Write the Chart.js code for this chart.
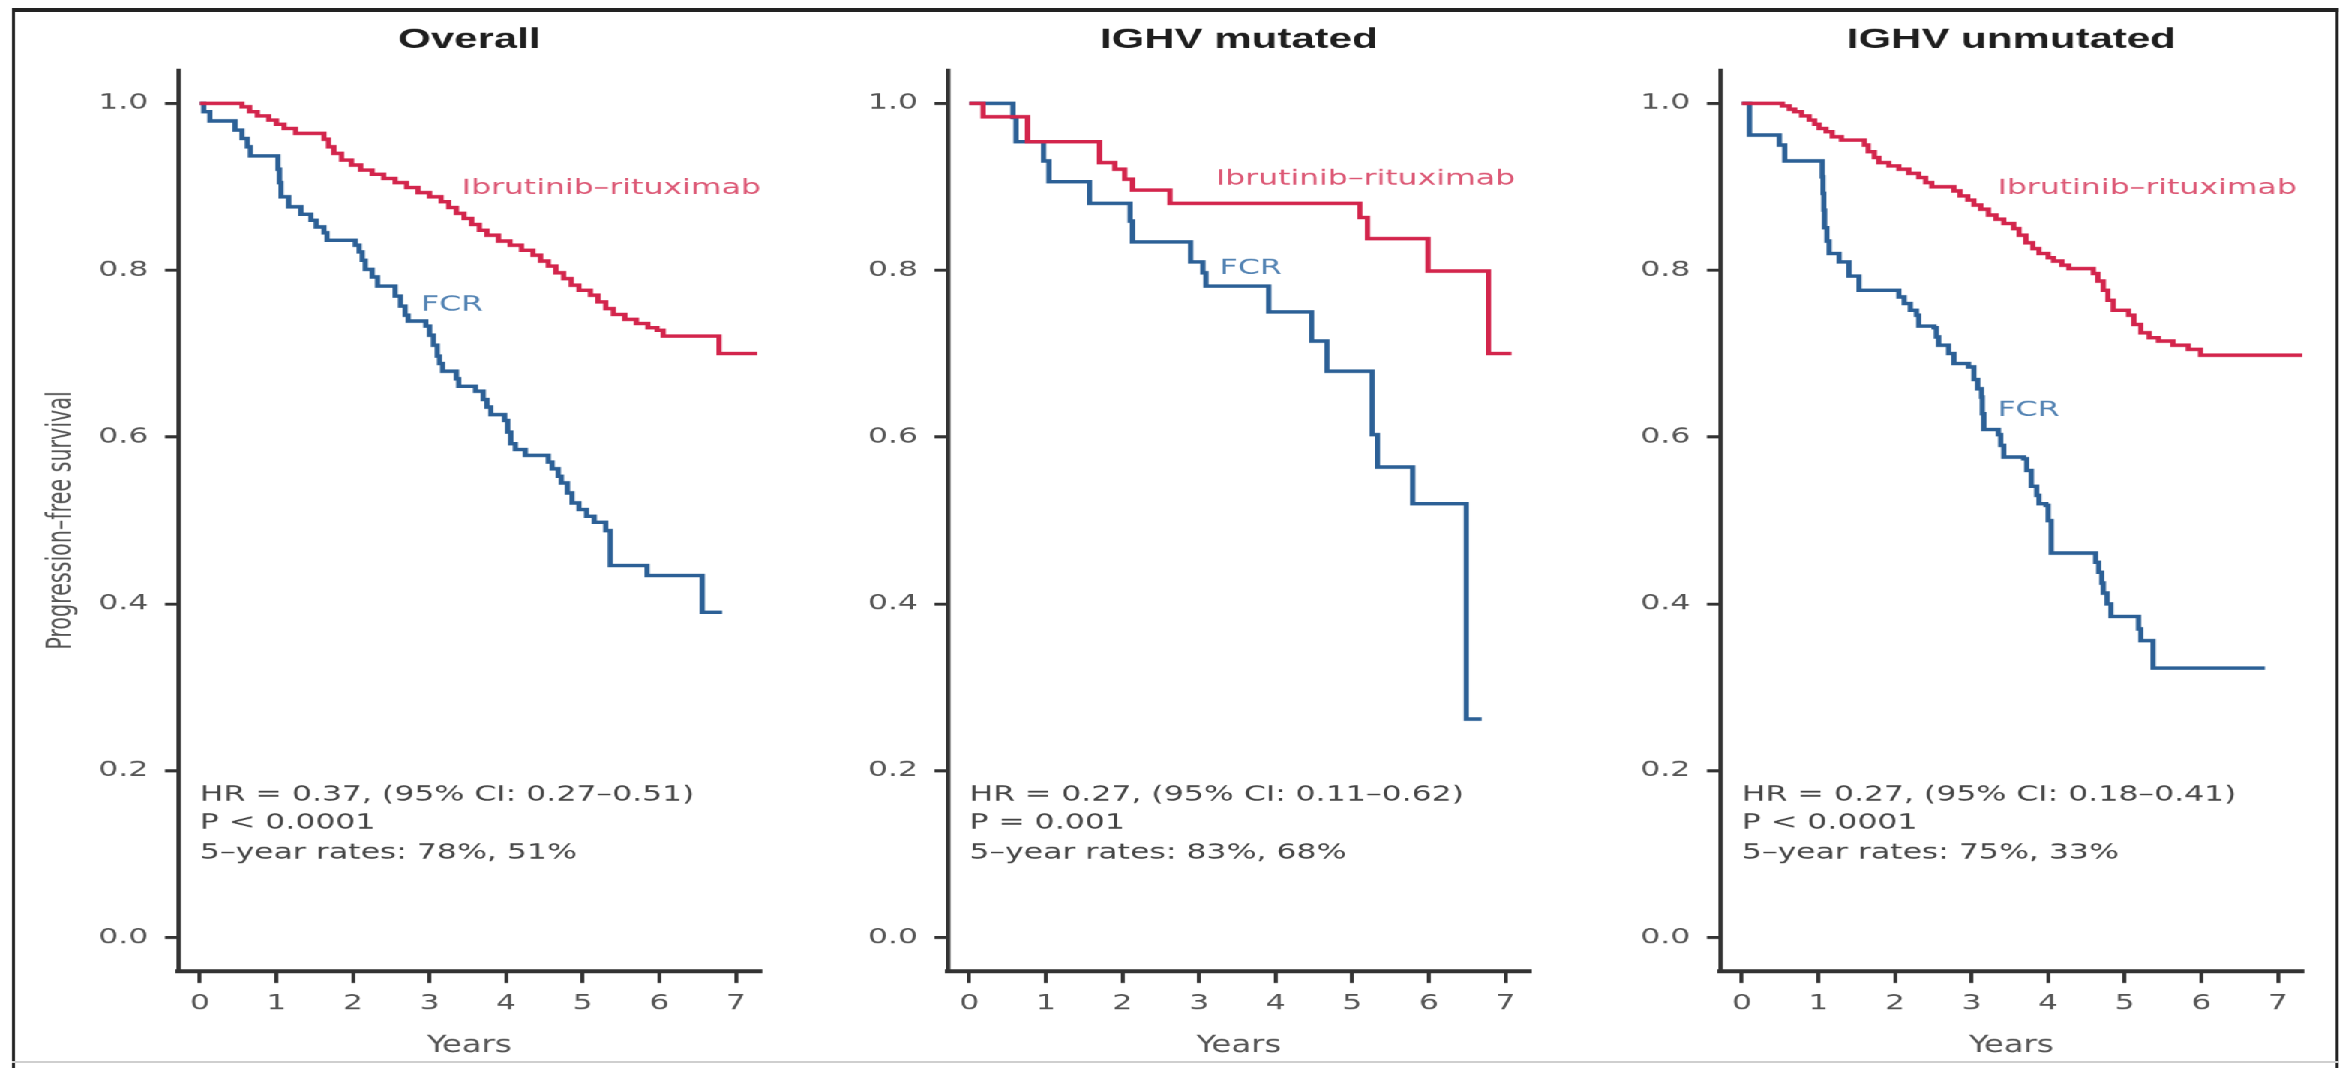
<!DOCTYPE html>
<html>
<head>
<meta charset="utf-8">
<script src="https://cdn.jsdelivr.net/npm/chart.js@4.4.1/dist/chart.umd.min.js"></script>
<style>
  html, body { margin: 0; padding: 0; background: #fff; overflow: hidden; }
  /* the source figure is stretched sideways, so the whole stage is too */
  #stage { position: absolute; left: 0; top: 0; width: 1562.67px; height: 1068px; transform: scaleX(1.5); transform-origin: 0 0; }
  #frame { position: absolute; left: 8px; top: 8px; width: 1550.67px; height: 1070px; box-sizing: border-box;
           border-left: 2.7px solid #222; border-right: 2.7px solid #222; border-top: 4px solid #222; }
  #foot { position: absolute; left: 8px; top: 1061px; width: 1550.67px; border-top: 2px solid #cfcfcf; }
  canvas { position: absolute; top: 0; width: 500px; height: 1068px; }
</style>
</head>
<body>
<div id="stage">
  <div id="frame"></div>
  <div id="foot"></div>
  <canvas id="overall" width="500" height="1068" style="left:18.67px"></canvas>
  <canvas id="mutated" width="500" height="1068" style="left:532px"></canvas>
  <canvas id="unmutated" width="500" height="1068" style="left:1046.67px"></canvas>
</div>
<script>
const years = [0, 1, 2, 3, 4, 5, 6, 7];
const survivalTicks = [0, 0.2, 0.4, 0.6, 0.8, 1.0];
const seriesNames = ['Ibrutinib–rituximab', 'FCR'];

// Kaplan-Meier steps: [years, survival after the drop]
const overallIR = [[0,1],[0.55,0.996],[0.65,0.990],[0.75,0.985],[0.9,0.980],[1.0,0.975],[1.1,0.970],[1.25,0.964],
  [1.62,0.957],[1.68,0.948],[1.75,0.940],[1.85,0.932],[1.98,0.926],[2.1,0.920],[2.25,0.915],[2.4,0.910],[2.55,0.905],
  [2.7,0.899],[2.85,0.893],[3.0,0.888],[3.15,0.882],[3.25,0.875],[3.35,0.868],[3.45,0.862],[3.55,0.855],[3.65,0.848],
  [3.75,0.842],[3.9,0.835],[4.05,0.830],[4.2,0.824],[4.35,0.818],[4.45,0.811],[4.55,0.805],[4.65,0.797],[4.75,0.790],
  [4.85,0.782],[4.95,0.776],[5.1,0.770],[5.2,0.762],[5.3,0.754],[5.4,0.747],[5.55,0.741],[5.7,0.736],[5.85,0.731],
  [5.97,0.728],[6.05,0.721],[6.78,0.700],[7.28,0.700]];
const overallFCR = [[0,1],[0.05,0.990],[0.13,0.979],[0.46,0.968],[0.55,0.958],[0.62,0.948],[0.66,0.937],[1.02,0.921],
  [1.04,0.905],[1.06,0.888],[1.16,0.876],[1.32,0.867],[1.45,0.860],[1.52,0.852],[1.62,0.845],[1.66,0.836],[2.03,0.830],
  [2.08,0.822],[2.12,0.812],[2.16,0.801],[2.25,0.792],[2.32,0.781],[2.55,0.769],[2.62,0.757],[2.68,0.746],[2.72,0.739],
  [2.95,0.733],[3.0,0.722],[3.05,0.710],[3.1,0.697],[3.13,0.688],[3.17,0.679],[3.35,0.670],[3.38,0.661],[3.6,0.655],
  [3.7,0.645],[3.75,0.636],[3.8,0.627],[3.98,0.620],[4.02,0.606],[4.06,0.592],[4.12,0.585],[4.25,0.578],[4.55,0.570],
  [4.6,0.562],[4.68,0.553],[4.72,0.545],[4.8,0.533],[4.86,0.521],[4.95,0.513],[5.05,0.505],[5.15,0.498],[5.3,0.488],
  [5.36,0.446],[5.84,0.434],[6.56,0.390],[6.82,0.390]];

const mutatedIR = [[0,1],[0.18,0.984],[0.76,0.954],[1.70,0.929],[1.90,0.921],[2.03,0.909],[2.13,0.896],[2.62,0.880],
  [5.10,0.863],[5.20,0.838],[5.99,0.799],[6.78,0.700],[7.08,0.700]];
const mutatedFCR = [[0,1],[0.57,0.983],[0.61,0.954],[0.97,0.931],[1.04,0.906],[1.57,0.880],[2.10,0.859],[2.13,0.834],
  [2.89,0.810],[3.05,0.797],[3.09,0.781],[3.91,0.750],[4.47,0.715],[4.67,0.679],[5.26,0.603],[5.33,0.564],[5.79,0.520],
  [6.49,0.262],[6.69,0.262]];

const unmutatedIR = [[0,1],[0.53,0.997],[0.62,0.993],[0.69,0.990],[0.78,0.985],[0.88,0.980],[0.95,0.975],[1.01,0.970],
  [1.1,0.966],[1.18,0.960],[1.3,0.956],[1.6,0.950],[1.65,0.942],[1.73,0.935],[1.79,0.929],[1.92,0.925],[2.05,0.921],
  [2.18,0.916],[2.31,0.911],[2.4,0.905],[2.48,0.900],[2.77,0.895],[2.85,0.889],[2.95,0.884],[3.03,0.878],[3.12,0.873],
  [3.22,0.866],[3.32,0.861],[3.42,0.856],[3.55,0.850],[3.62,0.842],[3.71,0.833],[3.8,0.826],[3.88,0.820],[4.0,0.815],
  [4.07,0.811],[4.18,0.806],[4.27,0.802],[4.59,0.796],[4.65,0.787],[4.72,0.776],[4.78,0.764],[4.85,0.752],[5.05,0.746],
  [5.12,0.735],[5.21,0.725],[5.32,0.719],[5.44,0.715],[5.63,0.710],[5.83,0.705],[5.99,0.698],[7.32,0.698]];
const unmutatedFCR = [[0,1],[0.10,0.962],[0.49,0.950],[0.56,0.931],[1.05,0.912],[1.06,0.892],[1.07,0.872],[1.08,0.851],
  [1.11,0.835],[1.14,0.820],[1.27,0.810],[1.40,0.793],[1.53,0.776],[2.05,0.768],[2.12,0.760],[2.2,0.752],[2.28,0.746],
  [2.31,0.733],[2.51,0.731],[2.54,0.720],[2.57,0.710],[2.70,0.700],[2.77,0.688],[2.96,0.684],[3.03,0.669],[3.08,0.658],
  [3.13,0.648],[3.14,0.628],[3.16,0.609],[3.35,0.603],[3.38,0.590],[3.42,0.576],[3.68,0.574],[3.72,0.560],[3.78,0.541],
  [3.85,0.530],[3.88,0.520],[3.97,0.518],[4.00,0.500],[4.04,0.461],[4.62,0.450],[4.66,0.438],[4.70,0.425],[4.72,0.413],
  [4.77,0.400],[4.82,0.385],[5.18,0.370],[5.21,0.356],[5.37,0.323],[6.83,0.323]];

const statsOverall = ['HR = 0.37, (95% CI: 0.27–0.51)', 'P < 0.0001', '5–year rates: 78%, 51%'];
const statsMutated = ['HR = 0.27, (95% CI: 0.11–0.62)', 'P = 0.001', '5–year rates: 83%, 68%'];
const statsUnmutated = ['HR = 0.27, (95% CI: 0.18–0.41)', 'P < 0.0001', '5–year rates: 75%, 33%'];

// colours
const irLine = '#d3254c', fcrLine = '#2c6096';
const irText = '#dc5875', fcrText = '#5383b3';
const axisColor = '#333', tickColor = '#555';

// where the text sits, in data units
const statsRows = [0.171, 0.137, 0.101];

const panelText = {
  id: 'panelText',
  afterDraw(chart, args, opts) {
    const { ctx, chartArea, scales: { x, y } } = chart;
    ctx.save();
    ctx.textBaseline = 'middle';
    ctx.textAlign = 'center';
    ctx.fillStyle = '#1e1e1e';
    ctx.font = 'bold 28px "Liberation Sans", Arial, sans-serif';
    ctx.fillText(opts.title, (chartArea.left + chartArea.right) / 2, 40);

    ctx.textAlign = 'left';
    ctx.font = '21px "DejaVu Sans", sans-serif';
    ctx.fillStyle = irText;
    ctx.fillText(seriesNames[0], x.getPixelForValue(opts.irAt[0]), y.getPixelForValue(opts.irAt[1]));
    ctx.fillStyle = fcrText;
    ctx.fillText(seriesNames[1], x.getPixelForValue(opts.fcrAt[0]), y.getPixelForValue(opts.fcrAt[1]));

    ctx.fillStyle = '#454545';
    opts.stats.forEach((line, i) => {
      ctx.fillText(line, x.getPixelForValue(0), y.getPixelForValue(statsRows[i]));
    });
    ctx.restore();
  }
};

function toPoints(rows) {
  return rows.map(r => ({ x: r[0], y: r[1] }));
}

function kmPanel(id, ir, fcr, text, showYTitle) {
  const line = (name, rows, color) => ({
    label: name, data: toPoints(rows), borderColor: color, backgroundColor: color,
    showLine: true, stepped: 'before', borderWidth: 3.5, pointRadius: 0, fill: false
  });
  return new Chart(document.getElementById(id), {
    type: 'scatter',
    data: { datasets: [line(seriesNames[0], ir, irLine), line(seriesNames[1], fcr, fcrLine)] },
    options: {
      responsive: false,
      animation: false,
      devicePixelRatio: 1.5,
      events: [],
      layout: { padding: { top: 70, right: 12, bottom: 0, left: 0 } },
      plugins: { legend: { display: false }, tooltip: { enabled: false }, panelText: text },
      scales: {
        x: {
          type: 'linear', min: -0.28, max: 7.32,
          afterBuildTicks: s => { s.ticks = years.map(v => ({ value: v })); },
          afterFit: s => { s.height = 97; },
          grid: { drawOnChartArea: false, drawTicks: true, tickLength: 12, color: axisColor, lineWidth: 2.6 },
          border: { display: true, color: axisColor, width: 4 },
          ticks: { color: tickColor, font: { family: '"DejaVu Sans", sans-serif', size: 21 }, padding: 8, maxRotation: 0,
                   callback: v => String(v) },
          title: { display: true, text: 'Years', color: tickColor,
                   font: { family: '"Liberation Sans Narrow", "DejaVu Sans Condensed", sans-serif', size: 24 },
                   padding: { top: 0, bottom: 8 } }
        },
        y: {
          type: 'linear', min: -0.04, max: 1.04,
          afterBuildTicks: s => { s.ticks = survivalTicks.map(v => ({ value: v })); },
          afterFit: s => { s.width = 100; },
          grid: { drawOnChartArea: false, drawTicks: true, tickLength: 9, color: axisColor, lineWidth: 3 },
          border: { display: true, color: axisColor, width: 3 },
          ticks: { color: tickColor, font: { family: '"DejaVu Sans", sans-serif', size: 21 }, padding: 11,
                   callback: v => v.toFixed(1) },
          title: { display: showYTitle, text: 'Progression–free survival', color: tickColor,
                   font: { family: '"Liberation Sans Narrow", "DejaVu Sans Condensed", sans-serif', size: 23 },
                   padding: { top: 8, bottom: 0 } }
        }
      }
    },
    plugins: [panelText]
  });
}

kmPanel('overall', overallIR, overallFCR,
  { title: 'Overall', irAt: [3.42, 0.898], fcrAt: [2.89, 0.758], stats: statsOverall }, true);
kmPanel('mutated', mutatedIR, mutatedFCR,
  { title: 'IGHV mutated', irAt: [3.22, 0.909], fcrAt: [3.27, 0.802], stats: statsMutated }, false);
kmPanel('unmutated', unmutatedIR, unmutatedFCR,
  { title: 'IGHV unmutated', irAt: [3.34, 0.898], fcrAt: [3.34, 0.632], stats: statsUnmutated }, false);
</script>
</body>
</html>
